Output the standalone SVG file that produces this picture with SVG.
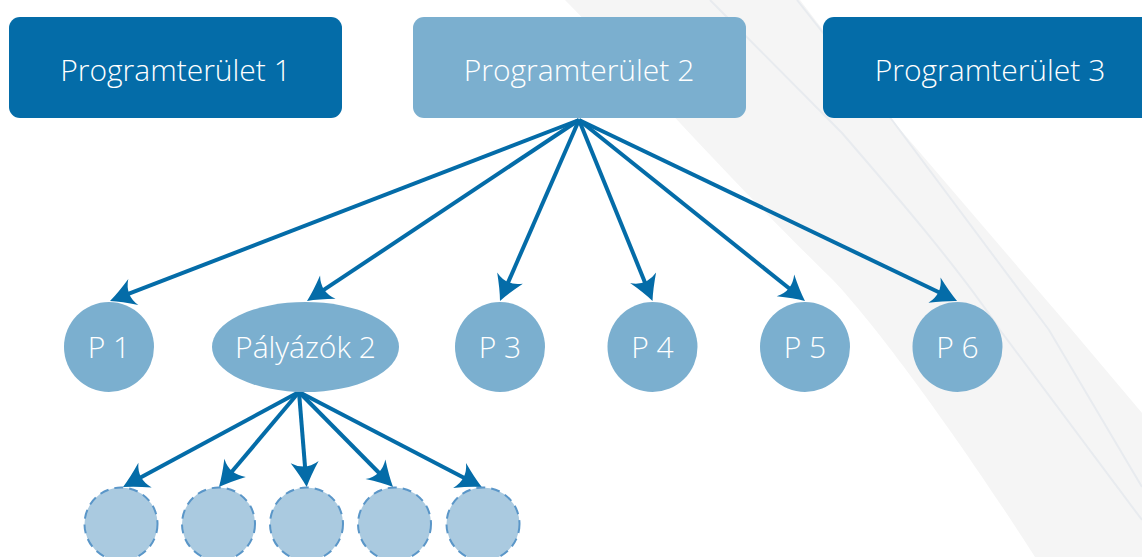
<svg xmlns="http://www.w3.org/2000/svg" width="1142" height="557" viewBox="0 0 1142 557">
  <style>
    .lbl { font-family: "Open Sans", "Liberation Sans", sans-serif; font-weight: 300; font-size: 30px; fill: #ffffff; text-anchor: middle; }
    .dark { fill: #046CA8; }
    .light { fill: #7BAFCF; }
    .sub { fill: #AACAE0; stroke: #5A96C8; stroke-width: 2; stroke-dasharray: 9 6; }
    .conn { stroke: #046CA8; stroke-width: 4; fill: none; marker-end: url(#arrow); }
    .band { fill: #F5F5F5; }
    .bline { stroke: #E8EBEF; stroke-width: 2; fill: none; }
  </style>
  <defs>
    <marker id="arrow" markerUnits="userSpaceOnUse" viewBox="-15 -15 30 30" markerWidth="30" markerHeight="30" refX="0" refY="0" orient="auto" overflow="visible">
      <path d="M12,0 Q1,-5 -13,-14 Q-4,0 -13,14 Q1,5 12,0 Z" fill="#046CA8"/>
    </marker>
  </defs>
  <rect width="1142" height="557" fill="#ffffff"/>
  <g id="background">
    <path class="band" d="M565,0 C620,55 700,150 833,280 C880,330 960,440 1035,557 L1142,557 L1142,413 L1072,330 L892,120 L800,0 Z"/>
    <path class="bline" d="M710,0 L842,133 C900,200 960,270 1000,330 L1142,520"/>
    <path class="bline" d="M797,0 L892,120 L1049,330 L1142,487"/>
  </g>
  <g id="connectors">
    <line class="conn" x1="579" y1="120" x2="121.2" y2="296.7"/>
    <line class="conn" x1="579" y1="120" x2="317.0" y2="294.4"/>
    <line class="conn" x1="579" y1="120" x2="504.8" y2="290.0"/>
    <line class="conn" x1="579" y1="120" x2="648.0" y2="289.9"/>
    <line class="conn" x1="579" y1="120" x2="795.6" y2="293.5"/>
    <line class="conn" x1="579" y1="120" x2="946.2" y2="295.8"/>
    <line class="conn" x1="299" y1="392" x2="133.6" y2="481.3"/>
    <line class="conn" x1="299" y1="392" x2="226.7" y2="477.8"/>
    <line class="conn" x1="299" y1="392" x2="305.7" y2="475.0"/>
    <line class="conn" x1="299" y1="392" x2="384.6" y2="478.5"/>
    <line class="conn" x1="299" y1="392" x2="471.1" y2="481.5"/>
  </g>
  <g id="programterulet1">
    <rect class="dark" x="9" y="17" width="333" height="101" rx="11"/>
    <text class="lbl" x="175.5" y="81">Programterület 1</text>
  </g>
  <g id="programterulet2">
    <rect class="light" x="413" y="17" width="333" height="101" rx="11"/>
    <text class="lbl" x="579" y="81">Programterület 2</text>
  </g>
  <g id="programterulet3">
    <rect class="dark" x="823" y="17" width="340" height="101" rx="11"/>
    <text class="lbl" x="990" y="81">Programterület 3</text>
  </g>
  <g id="p1">
    <ellipse class="light" cx="109" cy="347" rx="45" ry="45"/>
    <text class="lbl" x="109" y="358">P 1</text>
  </g>
  <g id="palyazok2">
    <ellipse class="light" cx="305.5" cy="347" rx="93.5" ry="45"/>
    <text class="lbl" x="305.5" y="358">Pályázók 2</text>
  </g>
  <g id="p3">
    <ellipse class="light" cx="500" cy="347" rx="45" ry="45"/>
    <text class="lbl" x="500" y="358">P 3</text>
  </g>
  <g id="p4">
    <ellipse class="light" cx="652.5" cy="347" rx="45" ry="45"/>
    <text class="lbl" x="652.5" y="358">P 4</text>
  </g>
  <g id="p5">
    <ellipse class="light" cx="805" cy="347" rx="45" ry="45"/>
    <text class="lbl" x="805" y="358">P 5</text>
  </g>
  <g id="p6">
    <ellipse class="light" cx="957.5" cy="347" rx="45" ry="45"/>
    <text class="lbl" x="957.5" y="358">P 6</text>
  </g>
  <g id="sub1"><circle class="sub" cx="121" cy="524" r="36.5"/></g>
  <g id="sub2"><circle class="sub" cx="218.5" cy="524" r="36.5"/></g>
  <g id="sub3"><circle class="sub" cx="306.5" cy="524" r="36.5"/></g>
  <g id="sub4"><circle class="sub" cx="394.5" cy="524" r="36.5"/></g>
  <g id="sub5"><circle class="sub" cx="483" cy="524" r="36.5"/></g>
</svg>
